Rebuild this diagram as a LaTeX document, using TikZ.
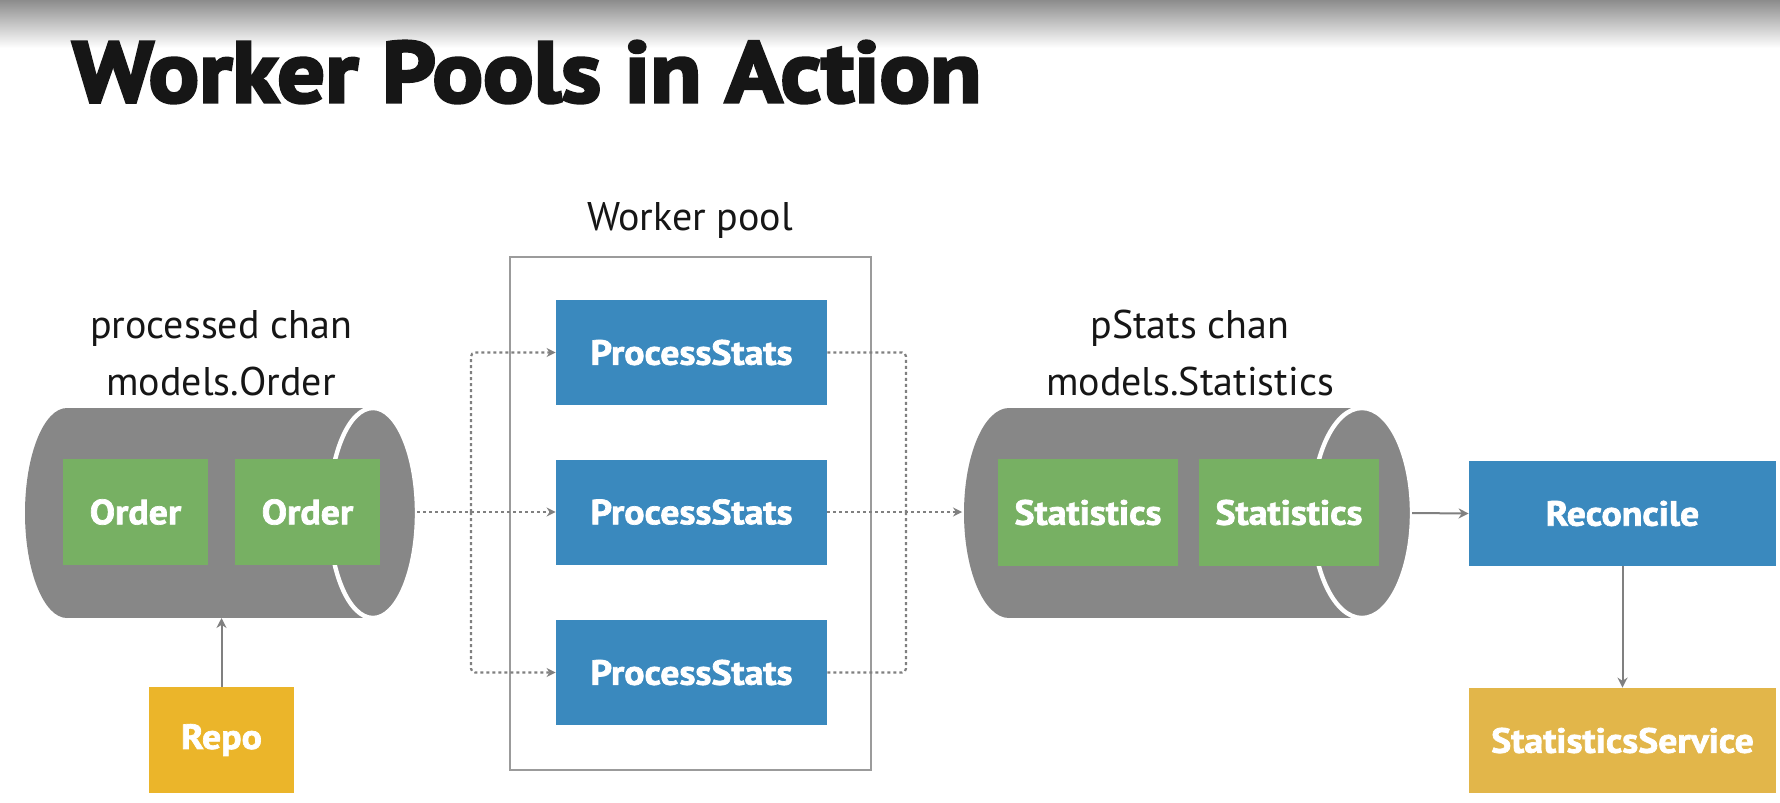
\documentclass[tikz,border=0pt]{standalone}
\usepackage{fontspec}
\setmainfont{PT Sans}
\newfontfamily\heavyfont{PT Sans Bold}[FakeBold=2, FakeStretch=1.08]
\newfontfamily\titlefont{PT Sans Bold}[FakeBold=3.5, FakeStretch=1.095]
\usetikzlibrary{arrows.meta}

\definecolor{cylgray}{RGB}{135,135,135}
\definecolor{boxgreen}{RGB}{119,176,99}
\definecolor{boxblue}{RGB}{58,137,190}
\definecolor{repoyellow}{RGB}{235,181,42}
\definecolor{svcyellow}{RGB}{226,182,74}
\definecolor{linegray}{RGB}{128,128,128}
\definecolor{framegray}{RGB}{155,155,155}
\definecolor{topgray}{RGB}{140,140,140}
\definecolor{inkblack}{RGB}{22,22,22}

\begin{document}
\begin{tikzpicture}[x=0.5pt,y=-0.5pt,
  box/.style={rectangle, inner sep=0pt, text=white,
    font=\heavyfont\fontsize{17.5}{19}\selectfont},
  orderbox/.style={box, fill=boxgreen, minimum width=72.5pt, minimum height=53pt},
  statbox/.style={box, fill=boxgreen, minimum width=90pt, minimum height=53.5pt},
  workerbox/.style={box, fill=boxblue, minimum width=135.5pt, minimum height=52.5pt},
  widebox/.style={box, minimum width=153.5pt, minimum height=52.5pt},
  lbl/.style={inner sep=0pt, text=inkblack, font=\fontsize{20}{24}\selectfont},
  flow/.style={draw=linegray, line width=1pt, -{Stealth[length=5pt,width=5pt]}},
  dotline/.style={draw=linegray, line width=1.1pt, dash pattern=on 1.5pt off 1.5pt,
    rounded corners=2pt},
  dotflow/.style={dotline, -{Stealth[length=4.5pt,width=4.5pt]}},
]
% page and header band
\fill[white] (0,0) rectangle (1780,802);
\shade[top color=topgray, bottom color=white] (0,0) rectangle (1780,48);
\useasboundingbox (0,0) rectangle (1780,802);

\node[anchor=base west, inner sep=0pt, text=inkblack,
  font=\titlefont\fontsize{43}{48}\selectfont] (title) at (72,102) {Worker Pools in Action};

% channel of orders
\fill[cylgray] (67,513) ellipse [x radius=42, y radius=105];
\fill[cylgray] (67,408) rectangle (373,618);
\filldraw[fill=cylgray, draw=white, line width=2.2pt] (373,513) ellipse [x radius=44, y radius=105];
\coordinate (c1e) at (417,512);
\coordinate (c1s) at (221.5,618);

\node[lbl, anchor=base] (c1top) at (221,338) {processed chan};
\node[lbl, anchor=base] (c1bot) at (221,395) {models.Order};

\node[orderbox] (o1) at (135.5,512) {Order};
\node[orderbox] (o2) at (307.5,512) {Order};
\node[box, fill=repoyellow, minimum width=72.5pt, minimum height=53pt] (repo) at (221.5,740) {Repo};
\draw[flow] (repo.north) -- (c1s);

% worker pool
\draw[framegray, line width=1.2pt] (510,257) rectangle (871,770);
\node[lbl, anchor=base] (wp) at (690,230) {Worker pool};
\node[workerbox] (ps1) at (691.5,352.5) {ProcessStats};
\node[workerbox] (ps2) at (691.5,512) {ProcessStats};
\node[workerbox] (ps3) at (691.5,672.5) {ProcessStats};

\coordinate (fkl) at (471,512);
\coordinate (fkr) at (906,512);
\draw[dotflow] (c1e) -- (ps2.west);
\draw[dotflow] (fkl) |- (ps1.west);
\draw[dotflow] (fkl) |- (ps3.west);
\draw[dotline] (ps1.east) -| (fkr);
\draw[dotline] (ps3.east) -| (fkr);

% channel of statistics
\fill[cylgray] (1009,513) ellipse [x radius=45, y radius=105];
\fill[cylgray] (1009,408) rectangle (1362,618);
\filldraw[fill=cylgray, draw=white, line width=2.2pt] (1362,513) ellipse [x radius=50, y radius=105];
\coordinate (c2w) at (962,512);
\coordinate (c2e) at (1412,513);

\node[lbl, anchor=base] (c2top) at (1190,338) {pStats chan};
\node[lbl, anchor=base] (c2bot) at (1190,395) {models.Statistics};

\node[statbox] (s1) at (1088,512.5) {Statistics};
\node[statbox] (s2) at (1289,512.5) {Statistics};

\draw[dotflow] (ps2.east) -- (c2w);

% consumers
\node[widebox, fill=boxblue] (rec) at (1622.5,513.5) {Reconcile};
\node[widebox, fill=svcyellow] (svc) at (1622.5,740.5) {StatisticsService};
\draw[flow] (c2e) -- (rec.west);
\draw[flow] (rec.south) -- (svc.north);
\end{tikzpicture}
\end{document}
